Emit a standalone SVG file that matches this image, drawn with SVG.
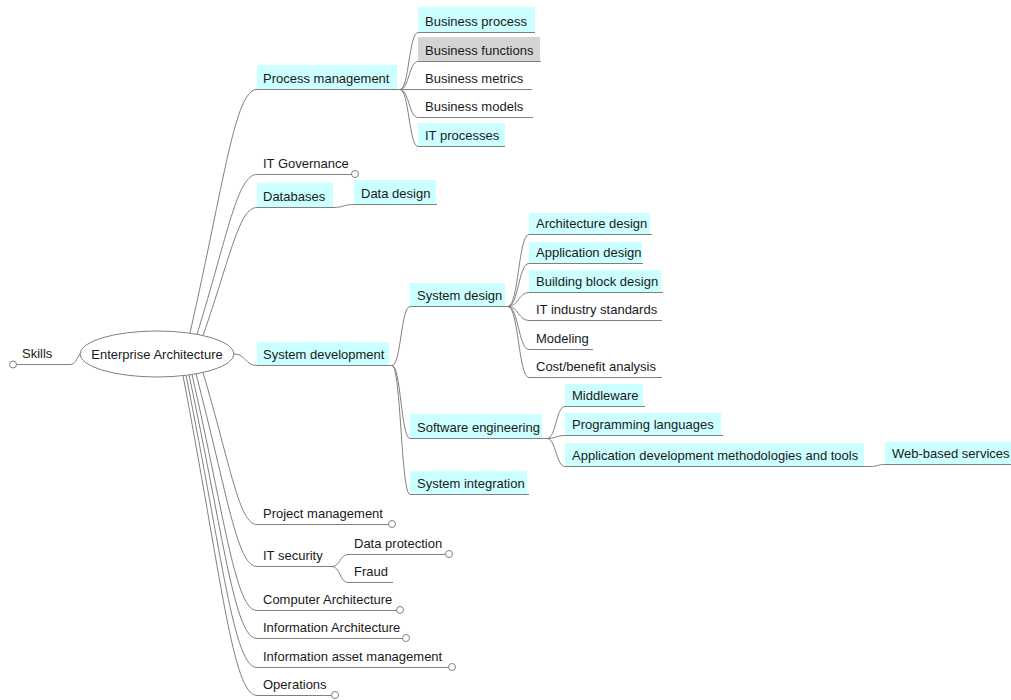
<svg xmlns="http://www.w3.org/2000/svg" width="1011" height="700" viewBox="0 0 1011 700">
<style>
text{font-family:"Liberation Sans",Arial,sans-serif;font-size:13px;fill:#1a1a1a}
.bg{fill:#ccffff}
.sel{fill:#d4d4d4}
.ul{stroke:#808080;stroke-width:1;fill:none}
.edge{stroke:#808080;stroke-width:1;fill:none}
.fold{fill:#ffffff;stroke:#808080;stroke-width:1}
</style>
<rect width="1011" height="700" fill="#ffffff"/>
<g id="connectors">
<path class="edge" d="M80,354 C76,360 75,364.5 70,364.5"/>
<path class="edge" d="M190,333 C224.8,179.3 234.9,89.5 257,89.5"/>
<path class="edge" d="M197,334.4 C228.2,233.4 237.2,174.5 257,174.5"/>
<path class="edge" d="M203,335.6 C231.1,254.6 239.2,207.5 257,207.5"/>
<path class="edge" d="M234,354 C246,354 245,365.5 257,365.5"/>
<path class="edge" d="M203,372.4 C231.1,467.9 239.2,524.5 257,524.5"/>
<path class="edge" d="M196,373.8 C227.7,494.9 236.9,566.5 257,566.5"/>
<path class="edge" d="M192,374.5 C225.8,522.9 235.6,610.5 257,610.5"/>
<path class="edge" d="M189,374.9 C224.4,540.7 234.6,638.5 257,638.5"/>
<path class="edge" d="M186,375.3 C222.9,559.1 233.6,667.5 257,667.5"/>
<path class="edge" d="M183,375.6 C221.5,576.8 232.6,695.5 257,695.5"/>
<path class="edge" d="M400,89.5 C409,89.5 409,32.5 418,32.5"/>
<path class="edge" d="M400,89.5 C409,89.5 409,61.5 418,61.5"/>
<path class="edge" d="M400,89.5 L418,89.5"/>
<path class="edge" d="M400,89.5 C409,89.5 409,117.5 418,117.5"/>
<path class="edge" d="M400,89.5 C409,89.5 409,146.5 418,146.5"/>
<path class="edge" d="M333,207.5 C343.5,207.5 343.5,204.5 354,204.5"/>
<path class="edge" d="M392,365.5 C401,365.5 401,306.5 410,306.5"/>
<path class="edge" d="M392,365.5 C401,365.5 401,438.5 410,438.5"/>
<path class="edge" d="M392,365.5 C401,365.5 401,494.5 410,494.5"/>
<path class="edge" d="M508,306.5 C518.5,306.5 518.5,234.5 529,234.5"/>
<path class="edge" d="M508,306.5 C518.5,306.5 518.5,263.5 529,263.5"/>
<path class="edge" d="M508,306.5 C518.5,306.5 518.5,292.5 529,292.5"/>
<path class="edge" d="M508,306.5 C518.5,306.5 518.5,320.5 529,320.5"/>
<path class="edge" d="M508,306.5 C518.5,306.5 518.5,349.5 529,349.5"/>
<path class="edge" d="M508,306.5 C518.5,306.5 518.5,377.5 529,377.5"/>
<path class="edge" d="M547,438.5 C556,438.5 556,406.5 565,406.5"/>
<path class="edge" d="M547,438.5 C556,438.5 556,435.5 565,435.5"/>
<path class="edge" d="M547,438.5 C556,438.5 556,466.5 565,466.5"/>
<path class="edge" d="M870,466.5 C877.5,466.5 877.5,464.5 885,464.5"/>
<path class="edge" d="M332,566.5 C340,566.5 340,554.5 348,554.5"/>
<path class="edge" d="M332,566.5 C340,566.5 340,582.5 348,582.5"/>
</g>
<g id="node-root">
<ellipse cx="157" cy="354" rx="77" ry="23" fill="#ffffff" stroke="#808080"/>
<text x="157" y="358.5" text-anchor="middle">Enterprise Architecture</text>
</g>
<g id="node-skills">
<line class="ul" x1="16.5" y1="364.5" x2="70" y2="364.5"/>
<circle class="fold" cx="13" cy="364.5" r="3.5"/>
<text x="22" y="358">Skills</text>
</g>
<g id="node-process-management">
<rect class="bg" x="257" y="65" width="140" height="24"/>
<line class="ul" x1="257" y1="89.5" x2="400" y2="89.5"/>
<text x="263" y="83">Process management</text>
</g>
<g id="node-business-process">
<rect class="bg" x="418" y="7" width="117" height="25"/>
<line class="ul" x1="418" y1="32.5" x2="535" y2="32.5"/>
<text x="425" y="26">Business process</text>
</g>
<g id="node-business-functions">
<rect class="sel" x="418" y="37" width="122" height="24"/>
<line class="ul" x1="418" y1="61.5" x2="541" y2="61.5"/>
<text x="425" y="55">Business functions</text>
</g>
<g id="node-business-metrics">
<line class="ul" x1="418" y1="89.5" x2="532" y2="89.5"/>
<text x="425" y="83">Business metrics</text>
</g>
<g id="node-business-models">
<line class="ul" x1="418" y1="117.5" x2="533" y2="117.5"/>
<text x="425" y="111">Business models</text>
</g>
<g id="node-it-processes">
<rect class="bg" x="418" y="123" width="87" height="23"/>
<line class="ul" x1="418" y1="146.5" x2="505" y2="146.5"/>
<text x="425" y="140">IT processes</text>
</g>
<g id="node-it-governance">
<line class="ul" x1="257" y1="174.5" x2="351.5" y2="174.5"/>
<circle class="fold" cx="355" cy="174" r="3.5"/>
<text x="263" y="168">IT Governance</text>
</g>
<g id="node-databases">
<rect class="bg" x="257" y="183" width="76" height="24"/>
<line class="ul" x1="257" y1="207.5" x2="333" y2="207.5"/>
<text x="263" y="201">Databases</text>
</g>
<g id="node-data-design">
<rect class="bg" x="354" y="180" width="82" height="24"/>
<line class="ul" x1="354" y1="204.5" x2="437" y2="204.5"/>
<text x="361" y="198">Data design</text>
</g>
<g id="node-system-development">
<rect class="bg" x="257" y="342" width="132" height="23"/>
<line class="ul" x1="257" y1="365.5" x2="392" y2="365.5"/>
<text x="263" y="359">System development</text>
</g>
<g id="node-system-design">
<rect class="bg" x="410" y="283" width="95" height="23"/>
<line class="ul" x1="410" y1="306.5" x2="508" y2="306.5"/>
<text x="417" y="300">System design</text>
</g>
<g id="node-architecture-design">
<rect class="bg" x="529" y="213" width="121" height="21"/>
<line class="ul" x1="529" y1="234.5" x2="652" y2="234.5"/>
<text x="536" y="228">Architecture design</text>
</g>
<g id="node-application-design">
<rect class="bg" x="529" y="242" width="113" height="21"/>
<line class="ul" x1="529" y1="263.5" x2="643" y2="263.5"/>
<text x="536" y="257">Application design</text>
</g>
<g id="node-building-block-design">
<rect class="bg" x="529" y="270" width="132" height="22"/>
<line class="ul" x1="529" y1="292.5" x2="663" y2="292.5"/>
<text x="536" y="286">Building block design</text>
</g>
<g id="node-it-industry-standards">
<line class="ul" x1="529" y1="320.5" x2="662" y2="320.5"/>
<text x="536" y="314">IT industry standards</text>
</g>
<g id="node-modeling">
<line class="ul" x1="529" y1="349.5" x2="593" y2="349.5"/>
<text x="536" y="343">Modeling</text>
</g>
<g id="node-cost-benefit">
<line class="ul" x1="529" y1="377.5" x2="662" y2="377.5"/>
<text x="536" y="371">Cost/benefit analysis</text>
</g>
<g id="node-software-engineering">
<rect class="bg" x="410" y="414" width="132" height="24"/>
<line class="ul" x1="410" y1="438.5" x2="547" y2="438.5"/>
<text x="417" y="432">Software engineering</text>
</g>
<g id="node-middleware">
<rect class="bg" x="565" y="384" width="78" height="22"/>
<line class="ul" x1="565" y1="406.5" x2="645" y2="406.5"/>
<text x="572" y="400">Middleware</text>
</g>
<g id="node-programming-languages">
<rect class="bg" x="565" y="413" width="156" height="22"/>
<line class="ul" x1="565" y1="435.5" x2="723" y2="435.5"/>
<text x="572" y="429">Programming languages</text>
</g>
<g id="node-app-dev">
<rect class="bg" x="565" y="443" width="299" height="23"/>
<line class="ul" x1="565" y1="466.5" x2="870" y2="466.5"/>
<text x="572" y="460">Application development methodologies and tools</text>
</g>
<g id="node-web-based-services">
<rect class="bg" x="885" y="442" width="126" height="22"/>
<line class="ul" x1="885" y1="464.5" x2="1011" y2="464.5"/>
<text x="892" y="458">Web-based services</text>
</g>
<g id="node-system-integration">
<rect class="bg" x="410" y="471" width="117" height="23"/>
<line class="ul" x1="410" y1="494.5" x2="529" y2="494.5"/>
<text x="417" y="488">System integration</text>
</g>
<g id="node-project-management">
<line class="ul" x1="257" y1="524.5" x2="388.5" y2="524.5"/>
<circle class="fold" cx="392" cy="524" r="3.5"/>
<text x="263" y="518">Project management</text>
</g>
<g id="node-it-security">
<line class="ul" x1="257" y1="566.5" x2="332" y2="566.5"/>
<text x="263" y="560">IT security</text>
</g>
<g id="node-data-protection">
<line class="ul" x1="348" y1="554.5" x2="445.5" y2="554.5"/>
<circle class="fold" cx="449" cy="554" r="3.5"/>
<text x="354" y="548">Data protection</text>
</g>
<g id="node-fraud">
<line class="ul" x1="348" y1="582.5" x2="393" y2="582.5"/>
<text x="354" y="576">Fraud</text>
</g>
<g id="node-computer-architecture">
<line class="ul" x1="257" y1="610.5" x2="396.5" y2="610.5"/>
<circle class="fold" cx="400" cy="610" r="3.5"/>
<text x="263" y="604">Computer Architecture</text>
</g>
<g id="node-information-architecture">
<line class="ul" x1="257" y1="638.5" x2="402.5" y2="638.5"/>
<circle class="fold" cx="406" cy="638" r="3.5"/>
<text x="263" y="632">Information Architecture</text>
</g>
<g id="node-information-asset-management">
<line class="ul" x1="257" y1="667.5" x2="448.5" y2="667.5"/>
<circle class="fold" cx="452" cy="667" r="3.5"/>
<text x="263" y="661">Information asset management</text>
</g>
<g id="node-operations">
<line class="ul" x1="257" y1="695.5" x2="331.5" y2="695.5"/>
<circle class="fold" cx="335" cy="695" r="3.5"/>
<text x="263" y="689">Operations</text>
</g>
</svg>
